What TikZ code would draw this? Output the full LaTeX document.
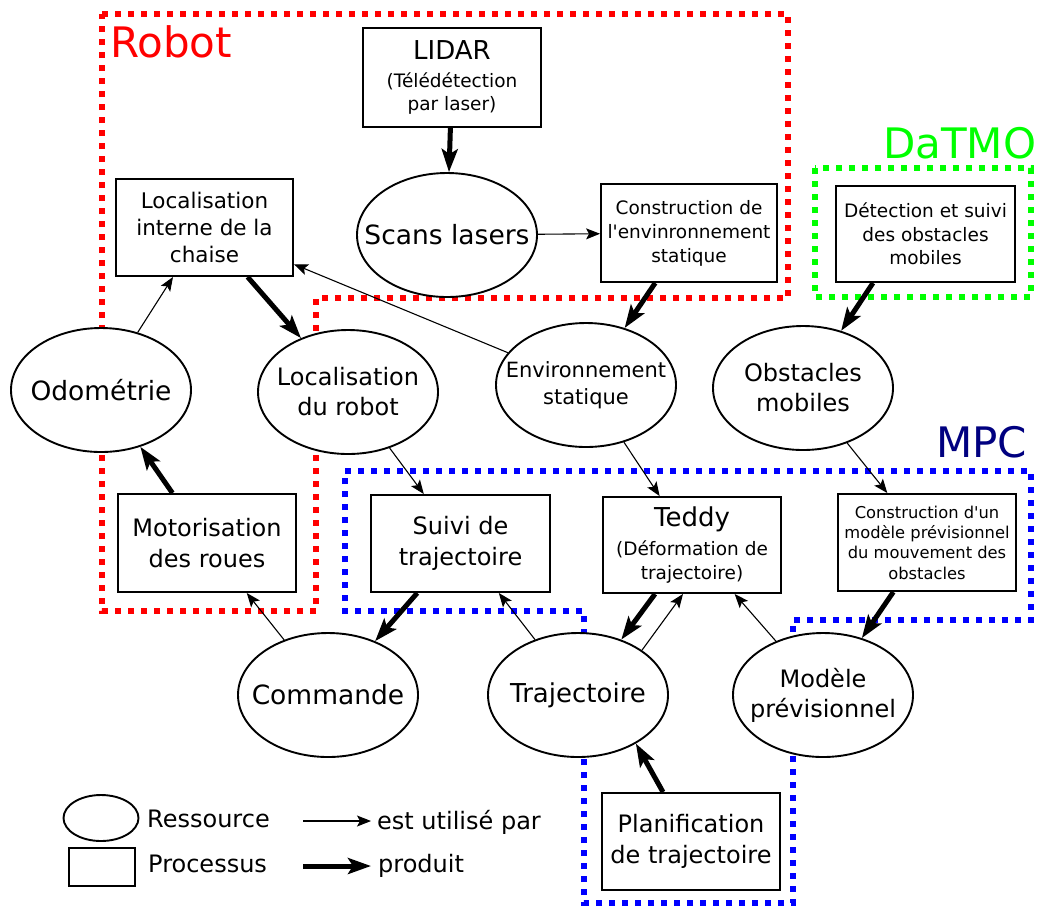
\documentclass[tikz,border=0pt]{standalone}
\usepackage{fontspec}
\setmainfont{DejaVu Sans}
\usetikzlibrary{shapes.geometric,arrows.meta}
\definecolor{bred}{RGB}{255,0,0}
\definecolor{bgreen}{RGB}{0,255,0}
\definecolor{bblue}{RGB}{0,0,255}
\definecolor{navy}{RGB}{0,0,128}
\newcommand\fsz[2]{\fontsize{#1}{#2}\selectfont}
\begin{document}
\begin{tikzpicture}[x=1pt,y=-1pt,
  box/.style={draw, line width=1.9pt, rectangle, inner sep=0pt, align=center, fill=white},
  res/.style={draw, line width=1.9pt, ellipse, inner sep=0pt, minimum width=180pt, minimum height=124pt, fill=white},
  lab/.style={align=center, inner sep=0pt},
  uses/.style={line width=1.1pt, -{Stealth[length=14pt,width=11pt,inset=3pt]}},
  prod/.style={line width=5pt, -{Stealth[length=23pt,width=16pt,inset=5pt]}},
  dotline/.style={line width=6pt, dash pattern=on 6pt off 7pt},
  grouplbl/.style={anchor=base west, inner sep=0pt, font=\fsz{42}{50}},
  legtxt/.style={anchor=base west, inner sep=0pt, font=\fsz{24}{29}},
]
\useasboundingbox (0,0) rectangle (1040,906);
\fill[white] (0,0) rectangle (1040,906);

% group boundaries
\draw[dotline, bred] (102,14) -- (788,14) -- (788,298) -- (316,298) -- (316,611) -- (102,611) -- cycle;
\draw[dotline, bgreen] (815,168) rectangle (1031,297);
\draw[dotline, bblue] (345,471) -- (1031,471) -- (1031,620) -- (793,620) -- (793,903) -- (584,903) -- (584,611) -- (345,611) -- cycle;

% group labels
\node[grouplbl, text=bred] (robotlbl) at (110,57) {Robot};
\node[grouplbl, text=bgreen] (datmolbl) at (883,158) {DaTMO};
\node[grouplbl, text=navy] (mpclbl) at (936,457) {MPC};

% processes
\node[box, minimum width=178pt, minimum height=99pt, font=\fsz{18.5}{23}] (lidar) at (452,77.5)
  {{\fsz{26}{30}LIDAR}\\[5pt](Télédétection\\par laser)};
\node[box, minimum width=176pt, minimum height=98pt, font=\fsz{18.5}{24}] (constr) at (689,233)
  {Construction de\\l\textquotesingle envinronnement\\statique};
\node[box, minimum width=177pt, minimum height=97pt, font=\fsz{21.5}{27}] (locint) at (204.5,227.5)
  {Localisation\\interne de la\\chaise};
\node[box, minimum width=179pt, minimum height=96pt, font=\fsz{18.5}{23.5}] (detect) at (925.5,234)
  {Détection et suivi\\des obstacles\\mobiles};
\node[box, minimum width=178pt, minimum height=98pt, font=\fsz{24}{31}] (motor) at (207,543)
  {Motorisation\\des roues};
\node[box, minimum width=179pt, minimum height=97pt, font=\fsz{24}{31}] (suivi) at (460.5,543.5)
  {Suivi de\\trajectoire};
\node[box, minimum width=178pt, minimum height=96pt, font=\fsz{18.5}{23.5}] (teddy) at (692,545)
  {{\fsz{26}{30}Teddy}\\[6pt](Déformation de\\trajectoire)};
\node[box, minimum width=178pt, minimum height=97pt, font=\fsz{16.3}{20.3}] (constrmod) at (927,542.5)
  {Construction d\textquotesingle un\\modèle prévisionnel\\du mouvement des\\obstacles};
\node[box, minimum width=178pt, minimum height=97pt, font=\fsz{24}{31}] (plan) at (691,841.5)
  {Planification\\de trajectoire};

% resources
\node[res, label={[lab, font=\fsz{26.5}{32}]center:Scans lasers}] (scans) at (447,235) {};
\node[res, label={[lab, font=\fsz{26.5}{32}]center:Odométrie}] (odo) at (101,390) {};
\node[res, label={[lab, font=\fsz{24}{30}]center:Localisation\\du robot}] (locrob) at (348,392) {};
\node[res, label={[lab, font=\fsz{21}{27}]center:Environnement\\statique}] (envst) at (586,385) {};
\node[res, label={[lab, font=\fsz{24}{30}]center:Obstacles\\mobiles}] (obst) at (803,388) {};
\node[res, label={[lab, font=\fsz{26.5}{32}]center:Commande}] (cmd) at (328,695) {};
\node[res, label={[lab, font=\fsz{26}{32}]center:Trajectoire}] (traj) at (578,695) {};
\node[res, label={[lab, font=\fsz{24}{30}]center:Modèle\\prévisionnel}] (modele) at (823,695) {};

% connectors
\draw[prod] (lidar) -- (scans);
\draw[uses] (scans) -- (constr);
\draw[prod] (constr) -- (envst);
\draw[uses] (envst) -- (locint);
\draw[uses] (odo) -- (locint);
\draw[prod] (locint) -- (locrob);
\draw[prod] (motor) -- (odo);
\draw[uses] (locrob) -- (suivi);
\draw[uses] (envst) -- (teddy);
\draw[uses] (obst) -- (constrmod);
\draw[prod] ([xshift=-52.5pt]detect.south) -- (obst);
\draw[prod] (constrmod) -- (modele);
\draw[prod] (suivi) -- (cmd);
\draw[uses] (cmd) -- (motor);
\draw[uses] (traj) -- (suivi);
\draw[prod] ([xshift=-37pt]teddy.south) -- (traj.52);
\draw[uses] (traj.35.5) -- ([xshift=-9pt]teddy.south);
\draw[uses] (modele) -- (teddy);
\draw[prod] ([xshift=-28pt]plan.north) -- (traj.-40);

% legend
\node[draw, line width=1.9pt, ellipse, inner sep=0pt, minimum width=75pt, minimum height=46pt] (legres) at (101,818) {};
\node[draw, line width=1.9pt, rectangle, inner sep=0pt, minimum width=66pt, minimum height=38pt] (legproc) at (102,867) {};
\node[legtxt] (legrestxt) at (147,827) {Ressource};
\node[legtxt] (legproctxt) at (148,872) {Processus};
\coordinate (lu1) at (303,821);
\coordinate (lu2) at (371,821);
\coordinate (lp1) at (303,866);
\coordinate (lp2) at (371,866);
\draw[uses] (lu1) -- (lu2);
\draw[prod] (lp1) -- (lp2);
\node[legtxt] (legusetxt) at (377,829) {est utilisé par};
\node[legtxt] (legprodtxt) at (378,872) {produit};
\end{tikzpicture}
\end{document}
